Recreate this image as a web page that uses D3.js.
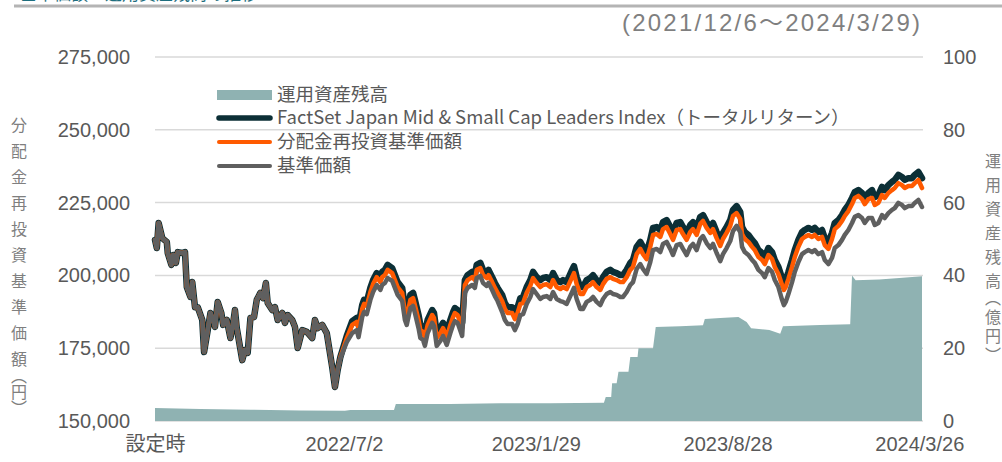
<!DOCTYPE html>
<html>
<head>
<meta charset="utf-8">
<script src="https://cdn.jsdelivr.net/npm/d3@7"></script>
<style>
body { margin: 0; background: #fff; }
svg { display: block; }
</style>
</head>
<body>
<script>
// launch date = 設定時, all series keyed by days since launch
var launch = new Date(2021, 11, 6);

var days = [0,2,4,8,13,14,18,20,23,25,30,33,35,39,41,44,47,52,54,58,61,64,66,69,73,75,79,83,86,88,90,96,99,102,105,109,112,116,119,122,124,129,132,135,140,143,146,151,154,157,162,167,173,176,179,184,189,195,198,201,204,207,211,
  217,222,224,228,230,233,237,240,244,248,
  250,253,256,261,264,267,272,275,277,281,284,286,290,292,295,297,300,305,307,310,314,317,321,325,328,330,333,338,341,344,349,352,354,358,361,365,367,371,374,377,
  382,385,388,393,396,399,402,405,409,413,416,420,
  424,427,431,435,438,442,446,
  449,453,459,461,464,468,471,475,479,482,486,490,493,497,501,504,508,512,515,519,523,526,530,534,537,541,545,548,552,556,559,563,567,570,574,578,581,585,589,592,596,600,
  603,607,611,614,618,622,625,629,633,636,
  640,644,646,649,653,657,660,664,668,671,675,679,682,686,
  690,692,694,697,701,704,708,712,715,719,723,726,730,734,737,741,
  745,748,752,756,759,763,767,770,774,778,781,785,
  789,792,796,800,803,807,811,814,818,822,825,829,833,836,840,844];

// FactSet Japan Mid & Small Cap Leaders Index (TR)
var indexTR = [212200,209400,218000,212800,211500,207700,203600,207000,204300,208000,207700,208000,196000,192600,197700,189100,189100,184700,173700,181200,187100,184700,182300,190900,187100,183000,184700,178500,183700,188100,181900,170900,174400,173400,185400,185700,191600,194000,192200,197400,190500,188100,189100,184700,187100,183700,186400,184700,182300,175100,181200,180600,178500,184700,181900,183000,180200,168500,161700,167500,172000,175100,179200,
  184300,185400,183000,189800,191600,190900,195700,198400,200800,199100,
  201200,201900,203600,202500,200100,197700,195700,189100,187400,193300,194000,191600,186400,183000,182300,180200,184700,188100,187100,180200,181900,183700,180600,184700,187400,188800,188100,183700,198400,200100,201200,200100,203600,204300,201900,200800,201900,199400,197400,195700,
  193300,190500,189100,189100,187100,189100,192200,192600,196000,198400,201200,199400,
  198400,199100,199400,198400,200800,198400,197700,
  198400,197700,201900,203200,199400,196000,196000,198400,199100,200100,198400,197400,199400,201200,201900,201200,200800,200100,200100,201900,204300,205300,209800,211500,209800,208000,212200,216300,216600,215600,218300,219000,216600,214600,218000,218300,216600,214600,217300,218300,216300,220100,
  220700,218300,216600,218000,214900,212200,214600,216600,219000,222500,
  223800,221800,216600,214900,213900,212200,211100,208700,207700,206300,209400,208000,205300,202900,
  199100,197400,198400,201200,205300,208700,212200,214900,215600,216300,215600,216300,214900,215600,212800,211500,
  214600,218000,219000,220700,222500,224200,226600,228600,229300,228300,226600,228300,
  229300,226900,227600,230400,229300,231000,232100,232800,234500,233800,232800,233400,233400,234500,235500,233400];

// 分配金再投資基準価額
var navReinvest = [212200,209400,218000,212800,211500,207700,203600,207000,204300,208000,207700,208000,196000,192600,197700,189100,189100,184700,173700,181200,187100,184700,182300,190900,187100,183000,184700,178500,183700,188100,181900,170900,174400,173400,185400,185700,191600,194000,192200,197400,190500,188100,189100,184700,187100,183700,186400,184700,182300,175100,181200,180600,178500,184700,181900,183000,180200,168500,161700,167500,172000,174700,178500,
  183000,184000,181600,188500,190200,189500,194300,197000,199400,197700,
  199400,200100,201900,200800,198400,196000,194000,187400,185700,191600,192200,189800,184700,181200,180600,178500,183000,186400,185400,178500,180200,181900,178800,183000,185700,187100,186400,181900,196700,198400,199400,198400,201900,202500,200100,199100,200100,197700,195700,194000,
  191200,188500,187100,187100,185000,187100,190200,190500,194000,196400,199100,197400,
  196000,196700,197000,196000,198400,196000,195300,
  196000,195300,199400,200800,197000,193600,193600,196000,196700,197700,196000,195000,197000,198800,199400,198800,198400,197700,197700,199400,201900,202900,207300,209100,207300,205600,209800,213900,214200,213200,215900,216600,214200,212200,215600,215900,214200,212200,214900,215900,213900,217700,
  218700,216300,214600,215900,212800,210100,212500,214600,217000,220400,
  221400,219400,214200,212500,211500,209800,208700,206300,205300,203900,207000,205600,202900,200500,
  196700,195000,196000,198800,202900,206300,209800,212500,213200,213900,213200,213900,212500,213200,210400,209100,
  212500,215900,217000,218700,220400,222100,224500,226600,227300,226200,224500,226200,
  226600,224200,224900,227600,226600,228300,229300,230000,231700,231000,230000,230700,230700,231700,232800,230000];

// 基準価額
var nav = [212200,209400,218000,212800,211500,207700,203600,207000,204300,208000,207700,208000,196000,192600,197700,189100,189100,184700,173700,181200,187100,184700,182300,190900,187100,183000,184700,178500,183700,188100,181900,170900,174400,173400,185400,185700,191600,194000,192200,197400,190500,188100,189100,184700,187100,183700,186400,184700,182300,175100,181200,180600,178500,184700,181900,183000,180200,168500,161700,167500,171600,174000,177100,
  180200,181200,178800,185700,187400,186700,191600,194300,196700,195000,
  196700,197400,199100,198100,195700,193300,191200,184700,183000,188800,189500,187100,181900,178500,177800,175800,180200,183700,182600,175800,177500,179200,176100,180200,183000,184300,183700,179200,194000,195700,196700,195700,199100,199800,197400,196400,197400,195000,192900,191200,
  187400,184700,183300,183300,181200,183300,186400,186700,190200,192600,195300,193600,
  191900,192600,192900,191900,194300,191900,191200,
  190900,190200,194300,195700,191900,188500,188500,190900,191600,192600,190900,189800,191900,193600,194300,193600,193300,192600,192600,194300,196700,197700,202200,203900,202200,200500,204600,208700,209100,208000,210800,211500,209100,207000,210400,210800,209100,207000,209800,210800,208700,212500,
  213500,211100,209400,210800,207700,204900,207300,209400,211800,215200,
  217000,214900,209800,208000,207000,205300,204300,201900,200800,199400,202500,201200,198400,196000,
  191600,189800,190900,193600,197700,201200,204600,207300,208000,208700,208000,208700,207300,208000,205300,203900,
  206000,209400,210400,212200,213900,215600,218000,220100,220700,219700,218000,219700,
  219700,217300,218000,220700,219700,221400,222500,223100,224900,224200,223100,223800,223800,224900,225900,223500];

// 運用資産残高 (億円)
var aumDays = [0,50,105,160,209,215,263,265,325,380,435,494,496,502,503,508,510,521,523,531,532,548,551,578,603,605,622,642,651,656,676,688,691,732,765,767,771,797,819,844];
var aum = [3.6,3.3,3.1,2.9,2.8,3.0,3.0,4.7,4.7,4.9,4.9,5.0,6.6,6.6,10.4,10.4,13.5,13.5,17.6,17.6,20.0,20.0,25.8,26.0,26.3,28.0,28.3,28.6,27.2,25.5,25.0,24.0,26.0,26.4,26.6,40.0,38.7,38.9,39.3,39.8];

var leftTicks = [150000,175000,200000,225000,250000,275000];
var rightTicks = [0,20,40,60,80,100];
var xTickDays = [0,208,419,630,841];
var xTickLabels = ["設定時","2022/7/2","2023/1/29","2023/8/28","2024/3/26"];
var legendLabels = ["運用資産残高","FactSet Japan Mid & Small Cap Leaders Index（トータルリターン）","分配金再投資基準価額","基準価額"];

if (days.length != indexTR.length || days.length != navReinvest.length || days.length != nav.length) {
  console.log("length mismatch", days.length, indexTR.length, navReinvest.length, nav.length);
}

var colAum = "#8fb2b2", colIdx = "#0c2f36", colRe = "#ff5a00", colNav = "#5f5f5f";
var txt = "#595959";
var jp = "'Noto Sans CJK JP', 'Noto Sans', sans-serif";
var latin = "'Liberation Sans', Arial, 'Noto Sans CJK JP', sans-serif";

var svg = d3.select("body").append("svg")
    .attr("width", 1002)
    .attr("height", 462);

var toDate = function(d) { return d3.timeDay.offset(launch, d); };

var x = d3.scaleTime().domain([launch, toDate(844)]).range([155, 922]);
var yL = d3.scaleLinear().domain([150000, 275000]).range([421, 57]);
var yR = d3.scaleLinear().domain([0, 100]).range([421, 57]);

// title (cut off at top) + rule
svg.append("text")
  .text("基準価額・運用資産残高の推移")
  .attr("x", 20).attr("y", 0)
  .attr("fill", "#1d6e7e")
  .style("font-family", jp).style("font-size", "17px");
svg.append("line")
  .attr("x1", 14).attr("x2", 1002).attr("y1", 6).attr("y2", 6)
  .attr("stroke", "#b4b4b4").attr("stroke-width", 3);

svg.append("text")
  .text("(2021/12/6～2024/3/29)")
  .attr("x", 622).attr("y", 31)
  .attr("textLength", 298)
  .attr("lengthAdjust", "spacing")
  .attr("fill", "#7f7f7f")
  .style("font-family", latin).style("font-size", "24px");

// gridlines
svg.append("g").selectAll("line")
  .data(leftTicks)
  .enter().append("line")
    .attr("x1", 155).attr("x2", 923)
    .attr("y1", function(d) { return yL(d); })
    .attr("y2", function(d) { return yL(d); })
    .attr("stroke", "#d9d9d9").attr("stroke-width", 1.5);

// aum area
var aumData = aumDays.map(function(d, i) { return {day: d, v: aum[i]}; });
var area = d3.area()
  .x(function(d) { return x(toDate(d.day)); })
  .y0(yR(0))
  .y1(function(d) { return yR(d.v); });
svg.append("path")
  .datum(aumData)
  .attr("d", area)
  .attr("fill", colAum);

// lines
var series = [
  {vals: indexTR, color: colIdx, w: 6.5},
  {vals: navReinvest, color: colRe, w: 4.5},
  {vals: nav, color: colNav, w: 4.5}
];
var line = d3.line()
  .x(function(d) { return x(toDate(d.day)); })
  .y(function(d) { return yL(d.v); });

series.forEach(function(s) {
  var pts = days.map(function(d, i) { return {day: d, v: s.vals[i]}; });
  svg.append("path")
    .datum(pts)
    .attr("d", line)
    .attr("fill", "none")
    .attr("stroke", s.color)
    .attr("stroke-width", s.w)
    .attr("stroke-linejoin", "round")
    .attr("stroke-linecap", "round");
});

// axes
var styleAxis = function(g) {
  g.select(".domain").remove();
  g.selectAll("text")
    .attr("fill", txt)
    .style("font-family", latin)
    .style("font-size", "20px");
};

svg.append("g")
  .attr("transform", "translate(155,0)")
  .call(d3.axisLeft(yL).tickValues(leftTicks).tickSize(0).tickPadding(25).tickFormat(d3.format(",")))
  .call(styleAxis);

svg.append("g")
  .attr("transform", "translate(922,0)")
  .call(d3.axisRight(yR).tickValues(rightTicks).tickSize(0).tickPadding(21))
  .call(styleAxis);

svg.append("g")
  .attr("transform", "translate(0,421)")
  .call(d3.axisBottom(x).tickValues(xTickDays.map(toDate)).tickSize(0).tickPadding(16)
    .tickFormat(function(d, i) { return xTickLabels[i]; }))
  .call(styleAxis);

// axis titles (vertical), brackets packed tighter like the original
var vText = function(str, cx, top, spacing) {
  svg.append("text")
    .text(str)
    .attr("x", cx).attr("y", top)
    .attr("fill", "#7f7f7f")
    .style("writing-mode", "vertical-rl")
    .style("letter-spacing", spacing + "px")
    .style("font-family", jp).style("font-size", "16px");
};
vText("分配金再投資基準価額", 19, 117, 10);
vText("（円）", 19, 368, 0);
vText("運用資産残高", 993, 153, 8);
vText("（億円）", 993, 290, 3);

// legend
var legY = [95, 118, 142, 166];
var leg = svg.append("g");
leg.append("rect")
  .attr("x", 217).attr("y", legY[0] - 5).attr("width", 55).attr("height", 10)
  .attr("fill", colAum);
series.forEach(function(s, i) {
  leg.append("line")
    .attr("x1", 219).attr("x2", 270)
    .attr("y1", legY[i + 1]).attr("y2", legY[i + 1])
    .attr("stroke", s.color)
    .attr("stroke-width", i == 0 ? 5.5 : 4)
    .attr("stroke-linecap", "round");
});
leg.selectAll("text")
  .data(legendLabels)
  .enter().append("text")
    .text(function(d) { return d; })
    .attr("x", 277)
    .attr("y", function(d, i) { return legY[i]; })
    .attr("dy", "0.35em")
    .attr("fill", txt)
    .style("font-family", jp)
    .style("font-size", "18.5px");
</script>
</body>
</html>
